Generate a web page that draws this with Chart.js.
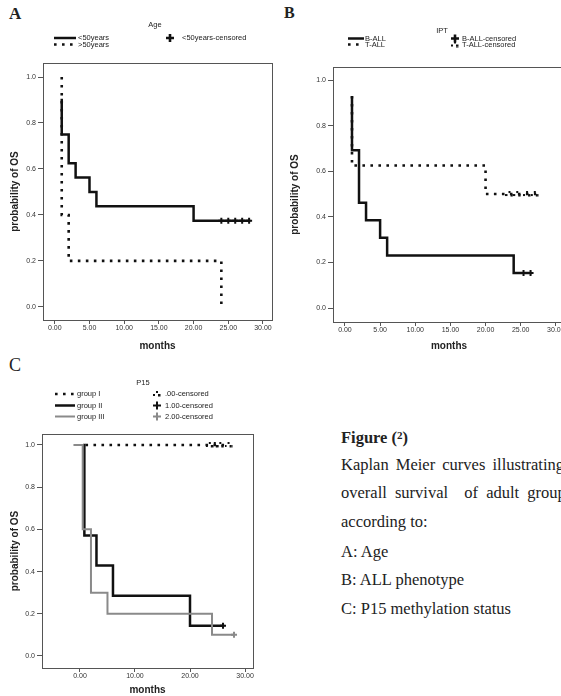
<!DOCTYPE html>
<html>
<head>
<meta charset="utf-8">
<script src="https://cdn.jsdelivr.net/npm/chart.js@4.4.1/dist/chart.umd.min.js"></script>
<style>
  body { margin: 0; width: 561px; height: 696px; overflow: hidden; background: #fff; position: relative; }
  canvas { position: absolute; }
  .letter { position: absolute; font-family: "Liberation Serif", serif; color: #222; line-height: 1; }
  .cap { position: absolute; left: 341px; font-family: "Liberation Serif", serif; font-size: 16.5px; line-height: 18px; color: #222; white-space: pre; }
  .cap sup { font-size: 11px; vertical-align: 4px; }
</style>
</head>
<body>
<div class="letter" style="left:9px;top:5px;font-size:17px;font-weight:bold">A</div>
<div class="letter" style="left:284px;top:5px;font-size:16px;font-weight:bold">B</div>
<div class="letter" style="left:9px;top:356px;font-size:18px">C</div>

<canvas id="chartA" width="280" height="352" style="left:0;top:0"></canvas>
<canvas id="chartB" width="300" height="352" style="left:280px;top:0"></canvas>
<canvas id="chartC" width="280" height="356" style="left:0;top:340px"></canvas>

<div class="cap" style="top:426px;font-weight:bold">Figure (<sup>2</sup>)</div>
<div class="cap" style="top:456px;word-spacing:3px">Kaplan Meier curves illustrating</div>
<div class="cap" style="top:484px;word-spacing:4px">overall survival  of adult group</div>
<div class="cap" style="top:513px">according to:</div>
<div class="cap" style="top:543px">A: Age</div>
<div class="cap" style="top:571px">B: ALL phenotype</div>
<div class="cap" style="top:600px">C: P15 methylation status</div>

<script>
// A: age
const ageYoungTime = [1, 1, 2, 3, 5, 6, 20, 28];
const ageYoungSurv = [0.9, 0.75, 0.625, 0.5625, 0.5, 0.4375, 0.375, 0.375];
const ageYoungCensored = [24, 25, 26, 27, 28];
const ageOldTime = [1, 1, 2, 24];
const ageOldSurv = [1.0, 0.4, 0.2, 0.0];

// B: ALL phenotype
const bAllTime = [1, 1, 2, 3, 5, 6, 24, 26.4];
const bAllSurv = [0.923, 0.692, 0.462, 0.385, 0.308, 0.231, 0.154, 0.154];
const bAllCensored = [25.4, 26.4];
const tAllTime = [1, 1, 20, 27.2];
const tAllSurv = [0.93, 0.625, 0.5, 0.5];
const tAllCensored = [23.4, 24.5, 25.9, 27];

// C: P15 methylation
const g1Time = [1, 27];
const g1Surv = [1, 1];
const g1Censored = [23.6, 24.5, 25.5, 27];
const g2Time = [0.8, 0.8, 3, 6, 20, 26];
const g2Surv = [1, 0.571, 0.429, 0.286, 0.143, 0.143];
const g2Censored = [26];
const g3Time = [-1, 0.5, 2, 5, 24, 28];
const g3Surv = [1, 0.6, 0.3, 0.2, 0.1, 0.1];
const g3Censored = [28];

const xTicksAB = [0, 5, 10, 15, 20, 25, 30];
const xTicksC = [0, 10, 20, 30];
const yTicks = [0, 0.2, 0.4, 0.6, 0.8, 1.0];

function stepPoints(times, surv) {
  return times.map((t, i) => ({ x: t, y: surv[i] }));
}

// survival value in force at each censoring time
function censorPoints(times, surv, cens) {
  return cens.map(t => {
    let y = surv[0];
    times.forEach((tt, i) => { if (tt <= t) y = surv[i]; });
    return { x: t, y: y };
  });
}

// little "-'." glyph SPSS uses for the dotted group's censor marks
function dotGlyph() {
  const c = document.createElement('canvas');
  c.width = 8; c.height = 6;
  const g = c.getContext('2d');
  g.fillStyle = '#111';
  g.fillRect(0, 3, 2, 2);
  g.fillRect(3, 0, 2, 2);
  g.fillRect(5, 3, 2.5, 2.5);
  return c;
}

const solid = (label, data, color, width) => ({
  label, data, borderColor: color || '#111', borderWidth: width || 2.5,
  stepped: true, pointRadius: 0, fill: false, borderCapStyle: 'square'
});
const dotted = (label, data) => ({
  label, data, borderColor: '#111', borderWidth: 2.6, borderDash: [2.6, 5.4],
  stepped: true, pointRadius: 0, fill: false
});
const censored = (label, data, style, color, r) => ({
  label, data, showLine: false, pointStyle: style, pointRadius: r || 3,
  pointBorderWidth: 2, pointBorderColor: color || '#111', pointBackgroundColor: color || '#111',
  borderColor: color || '#111'
});

const frame = {
  id: 'frame',
  beforeDatasetsDraw(chart) {
    const a = chart.chartArea, ctx = chart.ctx;
    ctx.save();
    ctx.strokeStyle = '#555';
    ctx.lineWidth = 1;
    ctx.strokeRect(Math.round(a.left) + 0.5, Math.round(a.top) + 0.5,
      Math.round(a.right - a.left), Math.round(a.bottom - a.top));
    ctx.restore();
  }
};

const kmLegend = {
  id: 'kmLegend',
  afterDraw(chart, args, opts) {
    const ctx = chart.ctx;
    ctx.save();
    ctx.font = '7.5px "Liberation Sans", Arial';
    ctx.fillStyle = '#222';
    ctx.textBaseline = 'middle';
    ctx.textAlign = 'center';
    ctx.fillText(opts.title, opts.titleX, opts.titleY);
    ctx.textAlign = 'left';
    opts.items.forEach(it => {
      const ds = chart.data.datasets[it.ds];
      if (ds.showLine === false) {
        ctx.strokeStyle = ds.pointBorderColor;
        ctx.fillStyle = ds.pointBorderColor;
        Chart.helpers.drawPoint(ctx, { pointStyle: ds.pointStyle, radius: it.r || 4, borderWidth: 2.5, rotation: 0 }, it.x, it.y);
      } else {
        ctx.strokeStyle = ds.borderColor;
        ctx.lineWidth = ds.borderWidth;
        ctx.setLineDash(ds.borderDash || []);
        ctx.beginPath();
        ctx.moveTo(it.x, it.y);
        ctx.lineTo(it.x + it.len, it.y);
        ctx.stroke();
        ctx.setLineDash([]);
      }
      ctx.fillStyle = '#222';
      ctx.fillText(ds.label, it.tx, it.y);
    });
    ctx.restore();
  }
};

function kmChart(id, datasets, box, xr, yr, xTicks, legend, titlePad) {
  const el = document.getElementById(id);
  const tickFont = { family: '"Liberation Sans", Arial', size: 7 };
  const titleFont = { family: '"Liberation Sans", Arial', size: 10, weight: 'bold' };
  return new Chart(el, {
    type: 'line',
    data: { datasets: datasets },
    plugins: [frame, kmLegend],
    options: {
      responsive: false,
      animation: false,
      layout: { padding: { left: 0, top: box.top, right: el.width - box.right, bottom: 0 } },
      plugins: { legend: { display: false }, tooltip: { enabled: false }, kmLegend: legend },
      scales: {
        x: {
          type: 'linear', min: xr[0], max: xr[1],
          afterBuildTicks: s => { s.ticks = xTicks.map(v => ({ value: v })); },
          afterFit: s => { s.height = el.height - box.bottom; },
          ticks: { callback: v => v.toFixed(2), font: tickFont, color: '#333', padding: 0, maxRotation: 0, autoSkip: false },
          grid: { drawOnChartArea: false, tickLength: 4, color: '#555' },
          border: { color: '#555' },
          title: { display: true, text: 'months', font: titleFont, color: '#222', padding: { top: titlePad, bottom: 0 } }
        },
        y: {
          min: yr[0], max: yr[1],
          afterBuildTicks: s => { s.ticks = yTicks.map(v => ({ value: v })); },
          afterFit: s => { s.width = box.left; },
          ticks: { callback: v => v.toFixed(1), font: tickFont, color: '#333', padding: 2 },
          grid: { drawOnChartArea: false, tickLength: 5, color: '#555' },
          border: { color: '#555' },
          title: { display: true, text: 'probability of OS', font: titleFont, color: '#222', padding: { top: 9, bottom: 0 } }
        }
      }
    }
  });
}

kmChart('chartA', [
  solid('<50years', stepPoints(ageYoungTime, ageYoungSurv)),
  dotted('>50years', stepPoints(ageOldTime, ageOldSurv)),
  censored('<50years-censored', censorPoints(ageYoungTime, ageYoungSurv, ageYoungCensored), 'cross')
], { left: 43, top: 63, right: 272, bottom: 320 }, [-1.7, 31.3], [-0.057, 1.061], xTicksAB, {
  title: 'Age', titleX: 155, titleY: 25,
  items: [
    { ds: 0, x: 54, len: 22, y: 38, tx: 78 },
    { ds: 1, x: 54, len: 21, y: 44.5, tx: 78 },
    { ds: 2, x: 170, y: 38, tx: 182 }
  ]
}, 2);

kmChart('chartB', [
  solid('B-ALL', stepPoints(bAllTime, bAllSurv)),
  dotted('T-ALL', stepPoints(tAllTime, tAllSurv)),
  censored('B-ALL-censored', censorPoints(bAllTime, bAllSurv, bAllCensored), 'cross'),
  censored('T-ALL-censored', censorPoints(tAllTime, tAllSurv, tAllCensored), dotGlyph())
], { left: 53, top: 67, right: 285, bottom: 322 }, [-1.7, 31.3], [-0.061, 1.057], xTicksAB, {
  title: 'IPT', titleX: 162, titleY: 31,
  items: [
    { ds: 0, x: 68, len: 16, y: 38.5, tx: 85 },
    { ds: 1, x: 68, len: 16, y: 44.5, tx: 85 },
    { ds: 2, x: 175, y: 38.5, tx: 182 },
    { ds: 3, x: 175, y: 44.5, tx: 182 }
  ]
}, 2);

kmChart('chartC', [
  dotted('group I', stepPoints(g1Time, g1Surv)),
  solid('group III', stepPoints(g3Time, g3Surv), '#8a8a8a', 2),
  solid('group II', stepPoints(g2Time, g2Surv)),
  censored('.00-censored', censorPoints(g1Time, g1Surv, g1Censored), dotGlyph()),
  censored('1.00-censored', censorPoints(g2Time, g2Surv, g2Censored), 'cross'),
  censored('2.00-censored', censorPoints(g3Time, g3Surv, g3Censored), 'cross', '#8a8a8a')
], { left: 42, top: 94, right: 253, bottom: 328 }, [-6.9, 31.45], [-0.057, 1.052], xTicksC, {
  title: 'P15', titleX: 143, titleY: 43,
  items: [
    { ds: 0, x: 55, len: 20, y: 54, tx: 77 },
    { ds: 2, x: 55, len: 20, y: 65.5, tx: 77 },
    { ds: 1, x: 55, len: 20, y: 76.5, tx: 77 },
    { ds: 3, x: 157, y: 54, tx: 165 },
    { ds: 4, x: 157, y: 65.5, tx: 165 },
    { ds: 5, x: 157, y: 76.5, tx: 165 }
  ]
}, 0);
</script>
</body>
</html>
